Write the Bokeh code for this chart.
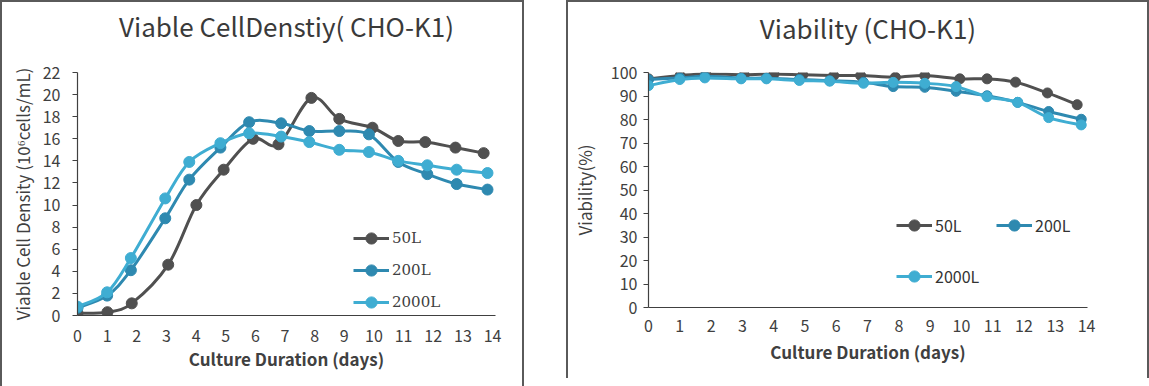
from bokeh.plotting import figure
from bokeh.models import Legend, LegendItem, FixedTicker, Range1d, LinearAxis
from bokeh.layouts import row
from bokeh.embed import file_html
from bokeh.resources import INLINE

# ---------------- data ----------------
series = ["50L", "200L", "2000L"]
colors = ["#505050", "#2e89b0", "#3fadd2"]

days_50L = [0, 1.01, 1.83, 3.06, 4.01, 4.93, 5.92, 6.78, 7.89, 8.83, 9.95, 10.82, 11.73, 12.75, 13.7]
days_200L = [0, 1.0, 1.8, 2.96, 3.77, 4.82, 5.79, 6.87, 7.82, 8.83, 9.83, 10.82, 11.8, 12.79, 13.83]
days_2000L = [0, 1.0, 1.8, 2.96, 3.77, 4.82, 5.79, 6.87, 7.82, 8.83, 9.83, 10.82, 11.8, 12.79, 13.83]

vcd_50L = [0.2, 0.3, 1.1, 4.6, 10.0, 13.2, 16.0, 15.5, 19.7, 17.8, 17.0, 15.8, 15.7, 15.2, 14.7]
vcd_200L = [0.7, 1.8, 4.1, 8.8, 12.3, 15.2, 17.5, 17.4, 16.7, 16.7, 16.4, 13.9, 12.8, 11.9, 11.4]
vcd_2000L = [0.8, 2.1, 5.2, 10.6, 13.9, 15.6, 16.5, 16.2, 15.7, 15.0, 14.8, 14.0, 13.6, 13.2, 12.9]

via_50L = [97.3, 98.7, 99.4, 99.0, 99.4, 99.0, 98.7, 98.7, 98.0, 98.7, 97.3, 97.3, 95.9, 91.3, 86.3]
via_200L = [97.0, 97.7, 98.4, 97.6, 97.6, 97.0, 96.5, 95.8, 94.0, 93.7, 92.0, 90.1, 87.3, 83.4, 80.1]
via_2000L = [94.4, 97.0, 97.7, 97.3, 97.3, 96.6, 96.3, 95.4, 95.8, 95.4, 94.0, 89.7, 87.3, 80.8, 77.7]

x_ticks = list(range(0, 15))
vcd_ticks = list(range(0, 23, 2))
via_ticks = list(range(0, 101, 10))

title_left = "Viable CellDenstiy( CHO-K1)"
title_right = "Viability (CHO-K1)"
xlabel = "Culture Duration (days)"
ylabel_left = "Viable Cell Density (10\u2076cells/mL)"
ylabel_right = "Viability(%)"

SANS = "Noto Sans CJK SC"
TXT = "#404040"
BORDER = "2px solid #5a5a5a"


def smooth_segments(xs, ys):
    """Excel-like smoothing: cubic Bezier control points from neighbouring data points."""
    n = len(xs)
    out = dict(x0=[], y0=[], x1=[], y1=[], cx0=[], cy0=[], cx1=[], cy1=[])
    for i in range(n - 1):
        xm, ym = (xs[i - 1], ys[i - 1]) if i > 0 else (xs[i], ys[i])
        xp, yp = (xs[i + 2], ys[i + 2]) if i + 2 < n else (xs[i + 1], ys[i + 1])
        out["x0"].append(xs[i]); out["y0"].append(ys[i])
        out["x1"].append(xs[i + 1]); out["y1"].append(ys[i + 1])
        out["cx0"].append(xs[i] + (xs[i + 1] - xm) / 6.0)
        out["cy0"].append(ys[i] + (ys[i + 1] - ym) / 6.0)
        out["cx1"].append(xs[i + 1] - (xp - xs[i]) / 6.0)
        out["cy1"].append(ys[i + 1] - (yp - ys[i]) / 6.0)
    return out


def style_axes(p, yticks, xstandoff, ystandoff, xl_standoff, yl_standoff):
    p.xaxis.ticker = FixedTicker(ticks=x_ticks)
    p.yaxis.ticker = FixedTicker(ticks=yticks)
    for ax in (p.xaxis[0], p.yaxis[0]):
        ax.axis_line_color = "#404040"
        ax.axis_line_width = 1.2
        ax.major_tick_line_color = "#404040"
        ax.major_tick_line_width = 1.2
        ax.minor_tick_line_color = None
        ax.major_tick_in = 0
        ax.major_label_text_font = SANS
        ax.major_label_text_font_size = "16px"
        ax.major_label_text_color = TXT
        ax.axis_label_text_font = SANS
        ax.axis_label_text_font_size = "17px"
        ax.axis_label_text_color = TXT
    p.xaxis.major_tick_out = 0
    p.yaxis.major_tick_out = 5
    p.xaxis.major_label_standoff = xstandoff
    p.yaxis.major_label_standoff = ystandoff
    p.xaxis.axis_label = xlabel
    p.xaxis.axis_label_text_font_style = "bold"
    p.xaxis.axis_label_standoff = xl_standoff
    p.yaxis.axis_label_text_font_style = "normal"
    p.yaxis.axis_label_standoff = yl_standoff
    p.xgrid.grid_line_color = None
    p.ygrid.grid_line_color = None
    p.outline_line_color = None


def add_title(p, text, bounds, standoff):
    # chart title drawn as the label of an otherwise invisible top axis
    ax = LinearAxis(ticker=FixedTicker(ticks=[]), bounds=bounds, axis_line_color=None,
                    major_tick_line_color=None, minor_tick_line_color=None,
                    major_tick_out=0, major_tick_in=0, minor_tick_out=0,
                    major_label_standoff=0, axis_label=text, axis_label_standoff=standoff,
                    axis_label_text_font=SANS, axis_label_text_font_size="26px",
                    axis_label_text_font_style="normal", axis_label_text_color="#3a3a3a")
    p.add_layout(ax, "above")


def draw_series(p, xs, ys, color, msize):
    seg = smooth_segments(xs, ys)
    p.bezier(x0=seg["x0"], y0=seg["y0"], x1=seg["x1"], y1=seg["y1"],
             cx0=seg["cx0"], cy0=seg["cy0"], cx1=seg["cx1"], cy1=seg["cy1"],
             line_color=color, line_width=3)
    sc = p.scatter(xs, ys, size=msize, fill_color=color, line_color=color)
    leg_line = p.line(xs, ys, line_color=color, line_width=3, visible=False)
    return [leg_line, sc]


# ---------------- left chart ----------------
p1 = figure(width=524, height=386, output_backend="svg", toolbar_location=None,
            x_range=Range1d(0, 14.1), y_range=Range1d(0, 22),
            min_border_left=75, min_border_right=31, min_border_top=70, min_border_bottom=73)
p1.title = None
style_axes(p1, vcd_ticks, 14, 12, 1, 5)
p1.yaxis.axis_label = ylabel_left
add_title(p1, title_left, (0, 13.2), 29)

left_data = [(days_50L, vcd_50L), (days_200L, vcd_200L), (days_2000L, vcd_2000L)]
items = []
for name, (xs, ys), c in zip(series, left_data, colors):
    rs = draw_series(p1, xs, ys, c, 11)
    items.append(LegendItem(label=name, renderers=rs))
leg1 = Legend(items=items, location=(276, -1), orientation="vertical",
              glyph_width=36, glyph_height=28, spacing=4, padding=0, margin=0,
              label_standoff=3, label_text_font="DejaVu Serif", label_text_font_size="15px",
              label_text_color=TXT, border_line_color=None, background_fill_alpha=0)
p1.add_layout(leg1, "center")
p1.styles = {"border-top": BORDER, "border-left": BORDER, "border-right": BORDER,
             "box-sizing": "border-box"}

# ---------------- right chart ----------------
p2 = figure(width=583, height=378, output_backend="svg", toolbar_location=None,
            x_range=Range1d(0, 14.03), y_range=Range1d(0, 100),
            min_border_left=76, min_border_right=64, min_border_top=70, min_border_bottom=73)
p2.title = None
style_axes(p2, via_ticks, 12, 6, 4, 11)
p2.yaxis.axis_label = ylabel_right
add_title(p2, title_right, (0, 13.87), 27)

right_data = [(days_50L, via_50L), (days_200L, via_200L), (days_2000L, via_2000L)]
leg_pos = [(248, 68), (348, 68), (248, 17)]
for name, (xs, ys), c, pos in zip(series, right_data, colors, leg_pos):
    rs = draw_series(p2, xs, ys, c, 10)
    lg = Legend(items=[LegendItem(label=name, renderers=rs)], location=pos,
                glyph_width=36, glyph_height=28, spacing=0, padding=0, margin=0,
                label_standoff=3, label_text_font=SANS, label_text_font_size="16px",
                label_text_color="#333333", border_line_color=None, background_fill_alpha=0)
    p2.add_layout(lg, "center")
p2.styles = {"border-top": BORDER, "border-left": BORDER, "border-right": BORDER,
             "box-sizing": "border-box"}

layout = row(p1, p2, spacing=42)

open("out.html", "w").write(file_html(layout, INLINE))
